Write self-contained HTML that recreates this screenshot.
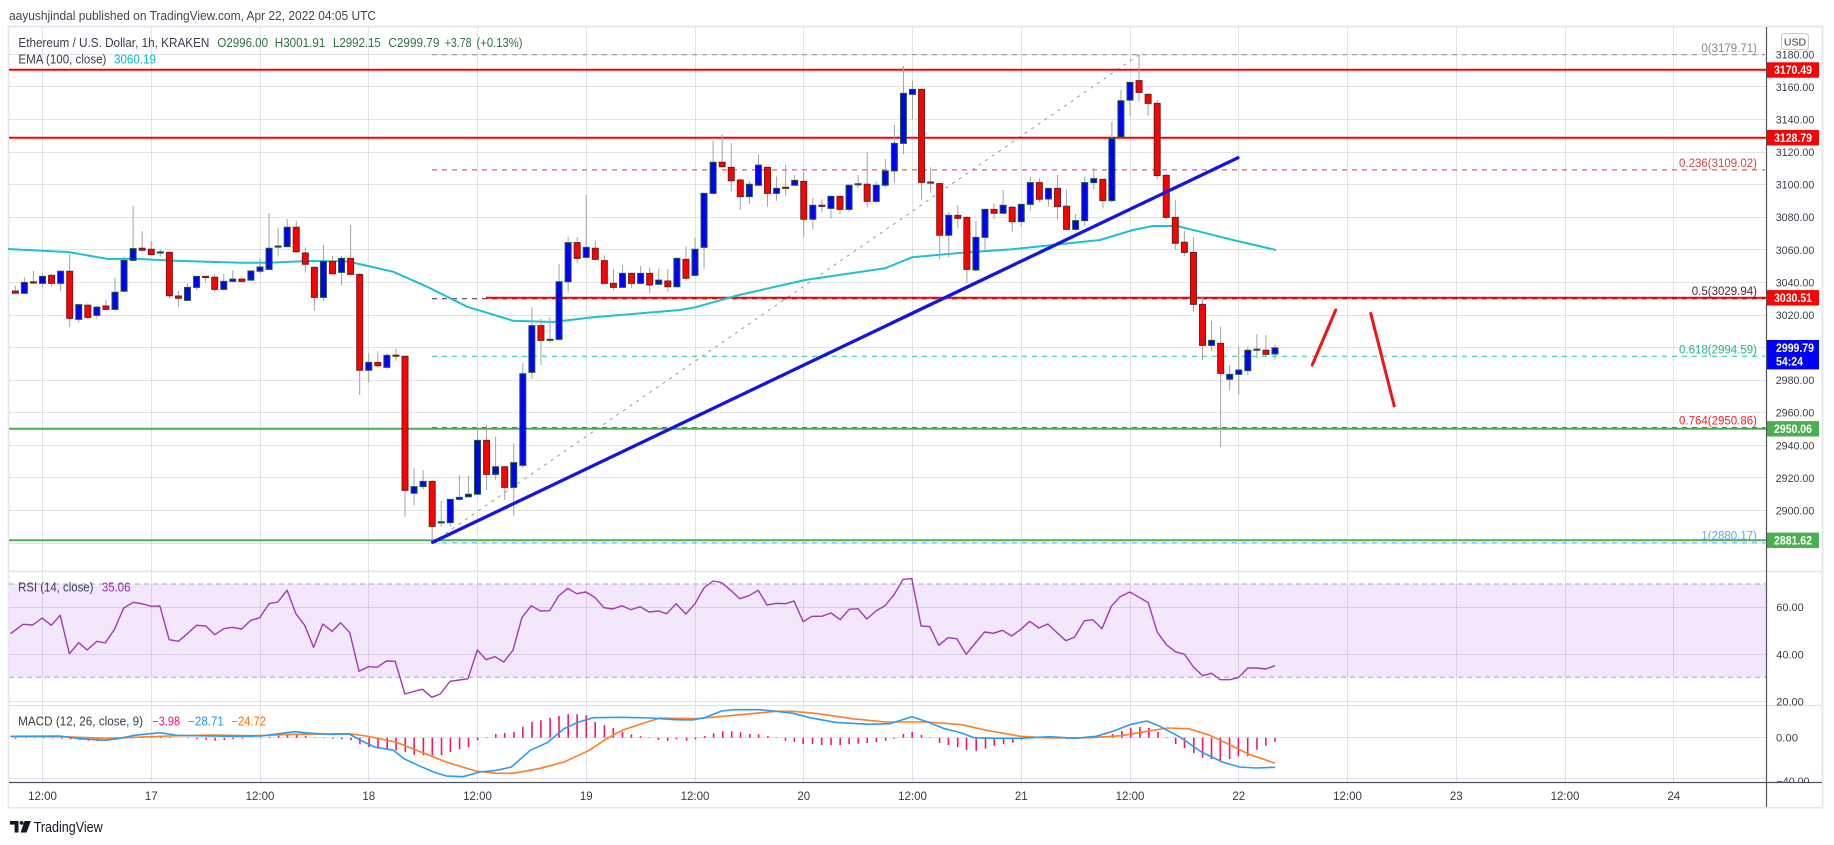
<!DOCTYPE html>
<html><head><meta charset="utf-8"><style>
html,body{margin:0;padding:0;background:#fff;width:1834px;height:845px;overflow:hidden}
svg{display:block}
text{font-family:"Liberation Sans",sans-serif}
</style></head><body>
<svg width="1834" height="845" viewBox="0 0 1834 845" xmlns="http://www.w3.org/2000/svg">
<rect width="1834" height="845" fill="#fff"/>
<text x="9" y="20" font-size="13" fill="#434651" textLength="367" lengthAdjust="spacingAndGlyphs">aayushjindal published on TradingView.com, Apr 22, 2022 04:05 UTC</text>
<rect x="8.5" y="26.5" width="1814" height="781" fill="#fff" stroke="#e6e8ef" stroke-width="2"/>

<!-- RSI band -->
<rect x="9" y="584" width="1757" height="93.3" fill="#f3e7fc"/>

<!-- vertical grid -->
<g stroke="rgba(60,60,90,0.14)" stroke-width="1">
<path d="M42.5 27V782M151.5 27V782M260.5 27V782M368.5 27V782M477.5 27V782M586.5 27V782M695.5 27V782M803.5 27V782M912.5 27V782M1021.5 27V782M1130.5 27V782M1238.5 27V782M1347.5 27V782M1456.5 27V782M1565.5 27V782M1673.5 27V782"/>
<path d="M9 54.5H1766M9 86.5H1766M9 119.5H1766M9 152.5H1766M9 184.5H1766M9 217.5H1766M9 249.5H1766M9 282.5H1766M9 315.5H1766M9 347.5H1766M9 380.5H1766M9 412.5H1766M9 445.5H1766M9 477.5H1766M9 510.5H1766M9 543.5H1766"/>
<path d="M9 607.5H1766M9 654.5H1766M9 701.5H1766M9 737.5H1766M9 778.5H1766"/>
</g>
<!-- pane separators -->
<path d="M9 571.5H1822M9 705.5H1822" stroke="#dfe1e8" stroke-width="1.2"/>
<!-- RSI band dashed edges -->
<path d="M9 584H1766M9 677.3H1766" stroke="#aaa3b9" stroke-width="1" stroke-dasharray="5 4"/>

<!-- fib lines -->
<g stroke-width="1" stroke-dasharray="5 5" fill="none">
<path d="M432 54.8H1765" stroke="#8a8d96"/>
<path d="M432 169.9H1765" stroke="#e0393e"/>
<path d="M432 298.7H1765" stroke="#3a2434"/>
<path d="M432 356.3H1765" stroke="#22c49a"/>
<path d="M432 427.5H1765" stroke="#ff2020"/>
<path d="M432 542.7H1765" stroke="#64b5f6"/>
</g>
<path d="M432.2 542.7L1139 54.8" stroke="#9598a1" stroke-width="1" stroke-dasharray="3 5"/>

<!-- horizontal S/R lines -->
<g stroke-width="2">
<path d="M9 69.8H1766M9 137.7H1766" stroke="#ff0000"/>
<path d="M486 297.8H1766" stroke="#ff0000"/>
<path d="M9 428.8H1766M9 540.3H1766" stroke="#4caf50"/>
</g>

<!-- EMA -->
<polyline fill="none" stroke="#1ec0d8" stroke-width="2" stroke-linejoin="round" points="8,249 51,251.3 68,252 108,259 135,258.7 175,260.7 241,262.7 268,262.7 308,261 348,261.5 393,271.7 427,286.7 467,306.7 513,320.7 553,322 593,317.3 680,310 695,307.3 739,295 805,280 885,268.3 912,257.3 962,252.7 1012,249.3 1100,240 1133,230 1153,226 1177,226 1200,231.7 1233,240 1276,250"/>

<!-- candles -->
<g transform="translate(42.5 347.5) scale(9.0625 -1.6289)">
<path vector-effect="non-scaling-stroke" stroke="#a3a3a3" stroke-width="1" fill="none" d="M-3 38V33M-2 43.1V32.5M-1 47V39M0 45.5V36.9M1 45V37M2 47.5V34.9M3 57.4V12.4M4 27V15.3M5 27.1V17.5M6 25.5V17.7M7 29.2V22.6M8 42.7V22.8M9 55.8V34M10 86.9V53M11 71.5V58.8M12 65.4V56.5M13 60.2V55.8M14 59V30.2M15 34.7V25.1M16 39.4V28.5M17 44V35.3M18 44V40M19 44.5V33.9M20 45.1V35M21 47.6V40M22 43V39.5M23 47.5V41M24 54.9V45.1M25 82.6V47.5M26 73.6V55.8M27 78.9V61.5M28 77.7V58M29 61.5V45.9M30 50V22.6M31 62.9V28.8M32 56.2V45M33 56.2V38M34 75.2V44.5M35 45.5V-29.2M36 -3.2V-21.6M37 -2.4V-12M38 -3.6V-13M39 -0.7V-8.1M40 -5V-103.9M41 -74.2V-97.1M42 -75.2V-87M43 -81.5V-119.8M44 -94.2V-110M45 -93.2V-110M46 -78.3V-94M47 -78.9V-92M48 -50.7V-90.5M49 -47.4V-87.5M50 -54.7V-81.3M51 -72.5V-93.6M52 -58.8V-103.2M53 -9.7V-74M54 24.7V-19.3M55 17.9V-10.7M56 18.5V3M57 51.3V4.5M58 67.8V33.7M59 67.8V51.7M60 93.6V55M61 65.8V53.5M62 56.6V39M63 48V35.3M64 50.6V36.5M65 46V36.5M66 50V39M67 49.2V33.2M68 48.6V38.5M69 48.2V34.3M70 55.5V37M71 61.9V41M72 67.4V44M73 95V48.4M74 127V94M75 131.1V110.5M76 125.5V95.7M77 103.5V84.4M78 102.4V88.1M79 118.8V99M80 111V86.5M81 104.9V90.1M82 112V93.2M83 105.9V99M84 107.7V67.6M85 91.8V72.5M86 91V83M87 93.5V79.3M88 93.6V81.7M89 100V83.2M90 105.9V98M91 119.8V86M92 101.8V89M93 115.7V98.3M94 136.6V101.2M95 172.8V118.8M96 163.6V140.1M97 159V90.8M98 110.6V95.1M99 101V54.1M100 83.2V55.1M101 87.5V73.2M102 80.5V39.4M103 77.9V47M104 85V59.9M105 88.5V78.7M106 96.7V82M107 87V71.1M108 88.5V74.2M109 104.9V84M110 103.9V89M111 98V86.5M112 105.9V78.3M113 96.7V72M114 82V72M115 104.9V74.8M116 110V97.1M117 103.5V85.4M118 138.6V89M119 158.1V129M120 163V142.1M121 179.6V150.9M122 156V142.3M123 152V103.2M124 106.5V79M125 90.5V59.9M126 71.7V56.2M127 67.6V22M128 31.2V-7.7M129 16.5V-2M130 12.8V-61.3M131 -10.7V-26.5M132 0.5V-29.2M133 0.5V-16.9M134 8.3V-6.7M135 7.7V-5M136 1.91V-7.85"/>
<path vector-effect="non-scaling-stroke" fill="#0000ff" stroke="#1e5a32" stroke-width="1" d="M-2.33 33.3h.66v6.7h-.66zM-.33 39.4h.66v4.3h-.66zM1.67 39.4h.66v7.4h-.66zM3.67 17.3h.66v9h-.66zM5.67 19.7h.66v5.1h-.66zM7.67 23.4h.66v10.5h-.66zM8.67 34.5h.66v19h-.66zM9.67 53.5h.66v7.2h-.66zM12.67 58h.66v.7h-.66zM15.67 28.9h.66v8h-.66zM16.67 36.9h.66v6.8h-.66zM19.67 35.7h.66v4.9h-.66zM20.67 40.6h.66v1.4h-.66zM22.67 41.4h.66v5.6h-.66zM23.67 46.8h.66v2.6h-.66zM24.67 48h.66v12.9h-.66zM25.67 61.6h.66v.7h-.66zM26.67 61.9h.66v11.9h-.66zM30.67 30.8h.66v22.1h-.66zM32.67 46.1h.66v8.6h-.66zM35.67 -14h.66v4.9h-.66zM37.67 -12.2h.66v7.4h-.66zM40.67 -89.5h.66v4.1h-.66zM41.67 -85.4h.66v3.2h-.66zM43.67 -107.7h.66v.7h-.66zM44.67 -107.5h.66v14.3h-.66zM45.67 -93.2h.66v1.2h-.66zM46.67 -91.6h.66v1.5h-.66zM47.67 -90.1h.66v33.1h-.66zM49.67 -77.9h.66v4.7h-.66zM51.67 -85.9h.66v15.2h-.66zM52.67 -72.4h.66v56.3h-.66zM53.67 -15.3h.66v28.7h-.66zM55.67 4.4h.66v.7h-.66zM56.67 5h.66v35.4h-.66zM57.67 40.4h.66v24h-.66zM59.67 55.3h.66v6.2h-.66zM63.67 36.9h.66v8.6h-.66zM65.67 39.4h.66v6.1h-.66zM67.67 38.8h.66v2.6h-.66zM69.67 37.3h.66v17.4h-.66zM71.67 44.3h.66v16h-.66zM72.67 61.5h.66v33.1h-.66zM73.67 94.6h.66v19.1h-.66zM77.67 92.6h.66v7.6h-.66zM78.67 99.6h.66v12.4h-.66zM80.67 94.6h.66v3.1h-.66zM82.67 99.6h.66v3h-.66zM84.67 78.7h.66v8.6h-.66zM86.67 85.4h.66v7.4h-.66zM88.67 84.8h.66v14.8h-.66zM89.67 99.8h.66v.7h-.66zM91.67 89.7h.66v9.9h-.66zM92.67 99.6h.66v8.8h-.66zM93.67 108.4h.66v16.9h-.66zM94.67 125.3h.66v30.7h-.66zM95.67 155.4h.66v3.1h-.66zM99.67 68.9h.66v12.2h-.66zM102.67 47.6h.66v20h-.66zM103.67 67.6h.66v17.2h-.66zM105.67 82.4h.66v4.9h-.66zM107.67 77.3h.66v10.6h-.66zM108.67 87.9h.66v13.3h-.66zM110.67 91.2h.66v6.5h-.66zM113.67 72.5h.66v5.4h-.66zM114.67 77.9h.66v23.3h-.66zM115.67 101.2h.66v2.5h-.66zM117.67 90.2h.66v38.2h-.66zM118.67 129.4h.66v22.1h-.66zM119.67 151.9h.66v10.9h-.66zM128.67 1.3h.66v3.1h-.66zM130.67 -19.5h.66v3h-.66zM131.67 -16.5h.66v2.7h-.66zM132.67 -14.2h.66v12.5h-.66zM133.67 -1.7h.66v.7h-.66zM135.67 -4h.66v3.8h-.66z"/>
<path vector-effect="non-scaling-stroke" fill="#ff0000" stroke="#6d1f1f" stroke-width="1" d="M-3.33 33.3h.66v1.4h-.66zM-1.33 39.6h.66v.7h-.66zM.67 39.4h.66v4.9h-.66zM2.67 17.9h.66v28.9h-.66zM4.67 18.5h.66v7.4h-.66zM6.67 23.4h.66v2.1h-.66zM10.67 59.7h.66v1.2h-.66zM11.67 57h.66v3.3h-.66zM13.67 31.8h.66v26.6h-.66zM14.67 30.2h.66v1.4h-.66zM17.67 43h.66v.7h-.66zM18.67 35.7h.66v7.4h-.66zM21.67 40.6h.66v1.4h-.66zM27.67 58.8h.66v15h-.66zM28.67 51.1h.66v6.9h-.66zM29.67 30.8h.66v18.4h-.66zM31.67 45.3h.66v7.6h-.66zM33.67 44.9h.66v9.8h-.66zM34.67 -14h.66v58.9h-.66zM36.67 -11.2h.66v2.1h-.66zM38.67 -5.4h.66v.7h-.66zM39.67 -87.7h.66v82.3h-.66zM42.67 -109.8h.66v27.6h-.66zM48.67 -77.9h.66v20.9h-.66zM50.67 -85.9h.66v12.7h-.66zM54.67 4.4h.66v9h-.66zM58.67 54.7h.66v9.7h-.66zM60.67 54.1h.66v6.8h-.66zM61.67 39.4h.66v13.9h-.66zM62.67 36.9h.66v2.5h-.66zM64.67 39.4h.66v6.1h-.66zM66.67 38.4h.66v7.1h-.66zM68.67 37.3h.66v3.5h-.66zM70.67 42.5h.66v11.6h-.66zM74.67 111h.66v2.7h-.66zM75.67 102.4h.66v8.2h-.66zM76.67 92.6h.66v10.2h-.66zM79.67 94.6h.66v16h-.66zM81.67 97.7h.66v.7h-.66zM83.67 78.7h.66v23.3h-.66zM85.67 86.6h.66v.7h-.66zM87.67 84.8h.66v8h-.66zM90.67 89.7h.66v10.5h-.66zM96.67 101.4h.66v57.1h-.66zM97.67 100.9h.66v.7h-.66zM98.67 68.9h.66v31.7h-.66zM100.67 79.3h.66v1.8h-.66zM101.67 48h.66v31.9h-.66zM104.67 82.4h.66v2.4h-.66zM106.67 77.3h.66v8.8h-.66zM109.67 91h.66v10.2h-.66zM111.67 86.5h.66v11.2h-.66zM112.67 72.5h.66v14.2h-.66zM116.67 90.2h.66v13h-.66zM120.67 156.6h.66v7.2h-.66zM121.67 149.9h.66v5.5h-.66zM122.67 105.5h.66v44.4h-.66zM123.67 79.9h.66v25.8h-.66zM124.67 64h.66v15.9h-.66zM125.67 58.4h.66v6.2h-.66zM126.67 26.5h.66v31.9h-.66zM127.67 1.3h.66v25.2h-.66zM129.67 -15.9h.66v18.4h-.66zM134.67 -4.2h.66v2.5h-.66z"/>
</g>

<!-- blue trendline -->
<path d="M432.7 542.3L1238 157.7" stroke="#1414e6" stroke-width="3.3" stroke-linecap="round"/>
<!-- red arrows -->
<path d="M1312.3 364.9L1335.7 310M1370.8 313.5L1394.2 405.9" stroke="#f01414" stroke-width="3" stroke-linecap="round"/>

<!-- fib labels -->
<g font-size="11.5" text-anchor="end">
<text x="1757" y="51.8" fill="#858892">0(3179.71)</text>
<text x="1757" y="166.9" fill="#d84343">0.236(3109.02)</text>
<text x="1757" y="295.2" fill="#4a2640">0.5(3029.94)</text>
<text x="1757" y="353.3" fill="#26b38c">0.618(2994.59)</text>
<text x="1757" y="424.5" fill="#ff2020">0.764(2950.86)</text>
<text x="1757" y="539.7" fill="#5aa9e6">1(2880.17)</text>
</g>

<!-- legends -->
<g font-size="12.5">
<text x="18.4" y="47" fill="#3a3e4a" textLength="191" lengthAdjust="spacingAndGlyphs">Ethereum / U.S. Dollar, 1h, KRAKEN</text>
<g fill="#2f6f45">
<text x="217.4" y="47" textLength="50.6" lengthAdjust="spacingAndGlyphs">O2996.00</text>
<text x="274.8" y="47" textLength="50.5" lengthAdjust="spacingAndGlyphs">H3001.91</text>
<text x="333" y="47" textLength="47.8" lengthAdjust="spacingAndGlyphs">L2992.15</text>
<text x="388.4" y="47" textLength="51" lengthAdjust="spacingAndGlyphs">C2999.79</text>
<text x="444.7" y="47" textLength="26.8" lengthAdjust="spacingAndGlyphs">+3.78</text>
<text x="476.5" y="47" textLength="46" lengthAdjust="spacingAndGlyphs">(+0.13%)</text>
</g>
<text x="18.4" y="63.5" fill="#3a3e4a" textLength="88" lengthAdjust="spacingAndGlyphs">EMA (100, close)</text>
<text x="114" y="63.5" fill="#00bcd4" textLength="42" lengthAdjust="spacingAndGlyphs">3060.19</text>
<text x="18.1" y="591.5" fill="#3a3e4a" textLength="75.3" lengthAdjust="spacingAndGlyphs">RSI (14, close)</text>
<text x="101.9" y="591.5" fill="#9c27b0" textLength="28.6" lengthAdjust="spacingAndGlyphs">35.06</text>
<text x="18.1" y="725.5" fill="#3a3e4a" textLength="125" lengthAdjust="spacingAndGlyphs">MACD (12, 26, close, 9)</text>
<text x="152.4" y="725.5" fill="#f7136f" textLength="27.7" lengthAdjust="spacingAndGlyphs">−3.98</text>
<text x="188.1" y="725.5" fill="#2196f3" textLength="35.8" lengthAdjust="spacingAndGlyphs">−28.71</text>
<text x="231.5" y="725.5" fill="#ff6d00" textLength="34.5" lengthAdjust="spacingAndGlyphs">−24.72</text>
</g>

<!-- RSI line -->
<polyline fill="none" stroke="#a23ab3" stroke-width="1.4" stroke-linejoin="round" points="10.5,633.7 23.1,624.3 32.8,625 42.1,618 51.3,625.3 60.2,615.3 69.4,653.7 78.7,642.7 87.1,650 96.8,641.3 105.2,643 114.5,629.3 123.7,608 133.4,602.3 143.1,604 151.5,606.3 159.9,606 169.2,639.7 178.5,641.3 187.3,633.7 196.6,625.3 205.8,626 214.7,634.7 223.9,628.7 232.3,627.3 241.6,629 250.9,620.3 259.7,617.7 269,603.7 277.8,602 287.1,590.3 295.9,613.7 304.7,625.3 313.6,647.3 322.8,624 332.1,631.3 340.5,622.7 349.8,632.7 359,671.3 368.3,666.7 377.1,667.3 386.4,661 395.2,661.3 404.9,694 414.2,691.3 422.6,689.3 431.8,697.3 440.3,694 450,681.3 459.2,680 468,678.7 477.3,650 486.1,659.7 495,656.7 503.8,662 513.1,650 521.9,617.7 531.2,605.7 540.4,611 549.7,610.7 558.5,596 567.8,588.3 576.6,593.7 585.9,592 594.7,597.3 604,607.7 612.8,609 622.1,605.7 630.9,609.7 640.2,606.7 649,612 658.4,611 666.8,613.7 676.1,603.7 685.8,614 695,603.7 703.9,588 713.1,581 721.6,582.7 730.8,590.3 739.7,598.7 748.9,595.7 758.2,590.3 767,605 776.3,603.3 785.5,603.7 794,601 803.2,621.7 812,616.3 821.7,616.3 831,613 840.2,619.7 849.1,609.3 857.9,608.7 866.8,619 876,611 884.9,605.7 894.1,594.7 903,579.3 911.8,578.7 921.1,626 929.9,626.7 938.7,645.3 948,637.7 956.8,638.7 966.1,654.3 975.4,643 984.6,632 993.5,633.3 1002.3,630.3 1011.6,636 1020.4,629.7 1029.7,621.3 1038.9,628 1047.8,624 1056.6,632.3 1065.9,640.7 1074.7,637 1084.4,620.7 1092.8,619.7 1102,628.7 1111.3,606.3 1120.1,596.7 1129.8,592 1139.1,597.3 1148.3,602.7 1157.2,632 1166.4,644.7 1175.3,651.7 1184.5,654.3 1193.4,667 1202.6,675.7 1211.5,673.3 1220.3,679.7 1229.6,679.7 1238.4,677.7 1247.7,668 1256.9,668 1265.8,669 1275,665.7"/>

<!-- MACD histogram -->
<path fill="none" stroke="#f7136f" stroke-width="1.6" d="M15.6 737.7V738.7M26.1 737.7V738.3M34.5 737.7V738.3M43.8 737.7V738.3M52.6 737.7V738.3M61.9 737.7V738.7M70.7 737.7V739.3M80 737.7V740M88.4 737.7V740.7M97.6 737.7V741M106.5 737.7V740.7M115.7 737.7V739.7M124.6 737.7V738.7M133.8 737.7V737.3M142.7 737.7V736.3M151.9 737.7V735.7M160.8 737.7V736.3M170 737.7V737M178.9 737.7V737.9M188.1 737.7V738.3M197 737.7V739M206.2 737.7V739.7M215.1 737.7V740.7M224.3 737.7V740M233.2 737.7V739.3M242.4 737.7V738.7M251.3 737.7V738M260.5 737.7V737.3M269.4 737.7V736.7M278.6 737.7V735.7M287.5 737.7V735M296.7 737.7V734.7M305.6 737.7V736M314.8 737.7V737.3M323.7 737.7V738.2M332.9 737.7V738.7M341.8 737.7V739.3M351 737.7V740.3M359.9 737.7V744.3M369.1 737.7V747M378 737.7V748.7M387.2 737.7V749.3M396.1 737.7V750.3M405.3 737.7V752M414.2 737.7V754.7M423.4 737.7V755.3M432.3 737.7V755.3M441.5 737.7V755.3M450.4 737.7V752M459.6 737.7V749.3M468.5 737.7V747M477.7 737.7V740.3M486.6 737.7V737.3M495.8 737.7V734M504.7 737.7V733M513.9 737.7V732M522.8 737.7V726.7M532 737.7V722M540.9 737.7V720.3M550.1 737.7V717.7M559 737.7V716M568.2 737.7V714.3M577.1 737.7V714.3M586.3 737.7V715.3M595.2 737.7V722M604.4 737.7V725.3M613.3 737.7V728M622.5 737.7V732M631.4 737.7V734.3M640.6 737.7V736.3M649.5 737.7V737.3M658.4 737.7V740M667.7 737.7V740.7M676.5 737.7V739.3M686.6 737.7V740.7M695.5 737.7V739.3M704.7 737.7V736M713.6 737.7V733.3M722.8 737.7V731.3M731.7 737.7V731.3M740.5 737.7V732.3M749.8 737.7V734M758.6 737.7V734.3M767.9 737.7V736M776.3 737.7V737.3M785.5 737.7V740.7M794.4 737.7V741.7M803.2 737.7V744M812.5 737.7V744M821.7 737.7V745M831 737.7V745M840.2 737.7V745M849.1 737.7V744.3M858.3 737.7V743.7M867.2 737.7V743M876.4 737.7V742M885.7 737.7V740.7M894.1 737.7V738.7M903.4 737.7V734M912.2 737.7V732M921.5 737.7V735M930.3 737.7V737.2M939.6 737.7V743M948.4 737.7V745M957.7 737.7V747M966.5 737.7V750M976.2 737.7V750.7M985.5 737.7V748.7M994.3 737.7V745.7M1003.6 737.7V744M1012.8 737.7V742.7M1021.7 737.7V739.7M1030.9 737.7V738.3M1040.2 737.7V738.2M1049 737.7V738.2M1058.3 737.7V738.3M1067.1 737.7V739M1076.4 737.7V739M1085.2 737.7V738.3M1094.5 737.7V737M1103.7 737.7V736.3M1112.6 737.7V734M1121.8 737.7V731M1130.7 737.7V727.7M1139.9 737.7V727M1148.8 737.7V728M1158 737.7V732M1166.9 737.7V737.2M1175.7 737.7V744M1184.5 737.7V748M1193.8 737.7V753M1202.6 737.7V757.7M1211.5 737.7V759M1220.3 737.7V760.3M1229.6 737.7V759M1238.4 737.7V756.3M1247.7 737.7V756.3M1257 737.7V749.7M1265.8 737.7V745.7M1275 737.7V741.8"/>
<polyline fill="none" stroke="#ff7f27" stroke-width="1.6" stroke-linejoin="round" points="10.5,736.3 63.1,736.7 105.2,738.3 126.3,737.7 168.4,736 210.5,735 252.5,735.7 294.6,734.3 349.3,733.7 366.2,736 395.6,742 420.9,752 446.2,762 475.6,771 496.7,773.3 513.5,773.3 538.8,768.7 564,762 589.3,750.3 606,739 622.9,730 644,723 660,718 696.3,718.7 734.2,715.3 776.3,711.3 793.1,711.3 818.4,713.7 852,718.7 885.7,722 927.8,722 961.5,724.7 986.7,730.3 1020.4,736.3 1049.9,738 1092,737.7 1121.4,735.7 1146.7,731.3 1167.7,728 1188.8,728.7 1209.8,735.3 1230.8,745.3 1247.7,753.7 1275,763.3"/>
<polyline fill="none" stroke="#2b9cf2" stroke-width="1.6" stroke-linejoin="round" points="10.5,736.3 58.9,736 80,738.7 105.2,740.3 117.9,738.7 134.7,735.3 159.9,732.7 176.8,735.3 210.5,736 235.7,736.3 261,736 294.6,731.7 311.5,733.3 328.3,734.3 349.3,734 362,741 374.6,747 393.5,750.3 404,758.7 416.7,764.7 433.5,772 446.2,776 463,776.7 479.8,772 496.7,770.3 511.4,767 530.3,750.3 547.2,742.7 564,728.7 578.7,722 593.5,717.7 622.9,717.3 650,718 675.3,719.7 692.1,720 704.7,717.7 721.6,711 734.2,709.7 759.4,709.7 776.3,711.3 793.1,713.3 809.9,717.7 835.2,722.3 868.9,724.3 889.9,723.7 911.8,716.7 927.8,722 944.6,728.7 961.5,733 974.1,737.7 995.1,738.3 1020.4,738.3 1049.9,736.7 1075.1,738.3 1096.2,736.3 1113,731.3 1129.8,724.7 1146.7,721 1159.3,726 1180.3,737.3 1201.4,752 1222.4,762 1239.3,767 1256.1,768 1275,767.3"/>

<!-- price axis labels -->
<g font-size="11" fill="#3a3e4a" text-anchor="middle">
<text x="1795" y="58.3" textLength="38.5" lengthAdjust="spacingAndGlyphs">3180.00</text>
<text x="1795" y="90.9" textLength="38.5" lengthAdjust="spacingAndGlyphs">3160.00</text>
<text x="1795" y="123.5" textLength="38.5" lengthAdjust="spacingAndGlyphs">3140.00</text>
<text x="1795" y="156.1" textLength="38.5" lengthAdjust="spacingAndGlyphs">3120.00</text>
<text x="1795" y="188.7" textLength="38.5" lengthAdjust="spacingAndGlyphs">3100.00</text>
<text x="1795" y="221.2" textLength="38.5" lengthAdjust="spacingAndGlyphs">3080.00</text>
<text x="1795" y="253.8" textLength="38.5" lengthAdjust="spacingAndGlyphs">3060.00</text>
<text x="1795" y="286.4" textLength="38.5" lengthAdjust="spacingAndGlyphs">3040.00</text>
<text x="1795" y="319" textLength="38.5" lengthAdjust="spacingAndGlyphs">3020.00</text>
<text x="1795" y="384.1" textLength="38.5" lengthAdjust="spacingAndGlyphs">2980.00</text>
<text x="1795" y="416.7" textLength="38.5" lengthAdjust="spacingAndGlyphs">2960.00</text>
<text x="1795" y="449.3" textLength="38.5" lengthAdjust="spacingAndGlyphs">2940.00</text>
<text x="1795" y="481.9" textLength="38.5" lengthAdjust="spacingAndGlyphs">2920.00</text>
<text x="1795" y="514.4" textLength="38.5" lengthAdjust="spacingAndGlyphs">2900.00</text>
<text x="1790" y="611" textLength="27.5" lengthAdjust="spacingAndGlyphs">60.00</text>
<text x="1790" y="658.3" textLength="27.5" lengthAdjust="spacingAndGlyphs">40.00</text>
<text x="1790" y="705.7" textLength="27.5" lengthAdjust="spacingAndGlyphs">20.00</text>
<text x="1787" y="741.7" textLength="22" lengthAdjust="spacingAndGlyphs">0.00</text>
<text x="1793" y="785" textLength="33" lengthAdjust="spacingAndGlyphs">−40.00</text>
</g>

<!-- USD button -->
<rect x="1781.5" y="33.5" width="27" height="16" rx="3" fill="#fff" stroke="#c8cad3"/>
<text x="1795" y="45.5" font-size="10.5" fill="#3a3e4a" text-anchor="middle">USD</text>

<!-- colored price tags -->
<g font-size="11.5" font-weight="bold" fill="#fff">
<rect x="1767" y="62.3" width="52" height="15.4" fill="#ff0000"/>
<text x="1793" y="74" text-anchor="middle" fill="#fff" textLength="38" lengthAdjust="spacingAndGlyphs">3170.49</text>
<rect x="1767" y="130" width="52" height="15.4" fill="#ff0000"/>
<text x="1793" y="141.8" text-anchor="middle" fill="#fff" textLength="38" lengthAdjust="spacingAndGlyphs">3128.79</text>
<rect x="1767" y="290.1" width="52" height="15.4" fill="#ff0000"/>
<text x="1793" y="301.9" text-anchor="middle" fill="#fff" textLength="38" lengthAdjust="spacingAndGlyphs">3030.51</text>
<rect x="1767" y="340" width="52" height="29.4" fill="#0000ff"/>
<text x="1776" y="352" fill="#fff" textLength="38" lengthAdjust="spacingAndGlyphs">2999.79</text>
<text x="1776" y="365.5" fill="#fff" textLength="27" lengthAdjust="spacingAndGlyphs">54:24</text>
<rect x="1767" y="421.1" width="52" height="15.4" fill="#4caf50"/>
<text x="1793" y="432.9" text-anchor="middle" fill="#fff" textLength="38" lengthAdjust="spacingAndGlyphs">2950.06</text>
<rect x="1767" y="532.6" width="52" height="15.4" fill="#4caf50"/>
<text x="1793" y="544.4" text-anchor="middle" fill="#fff" textLength="38" lengthAdjust="spacingAndGlyphs">2881.62</text>
</g>

<!-- time axis area -->
<rect x="9" y="782.5" width="1813" height="24.5" fill="#fff"/>
<path d="M9 782.5H1822" stroke="#50535e" stroke-width="1.2"/>
<path d="M1766.5 27V807" stroke="#50535e" stroke-width="1.2"/>
<g font-size="11.5" fill="#363a45" text-anchor="middle">
<text x="42.5" y="800">12:00</text>
<text x="151.25" y="800">17</text>
<text x="260" y="800">12:00</text>
<text x="368.75" y="800">18</text>
<text x="477.5" y="800">12:00</text>
<text x="586.25" y="800">19</text>
<text x="695" y="800">12:00</text>
<text x="803.75" y="800">20</text>
<text x="912.5" y="800">12:00</text>
<text x="1021.25" y="800">21</text>
<text x="1130" y="800">12:00</text>
<text x="1238.75" y="800">22</text>
<text x="1347.5" y="800">12:00</text>
<text x="1456.25" y="800">23</text>
<text x="1565" y="800">12:00</text>
<text x="1673.75" y="800">24</text>
</g>

<!-- logo -->
<g fill="#131722">
<rect x="10" y="821" width="8.5" height="3.6"/>
<rect x="14.6" y="821" width="3.9" height="11.5"/>
<circle cx="21.6" cy="822.9" r="1.9"/>
<polygon points="24.5,821 30.8,821 26.6,832.5 20.6,832.5"/>
</g>
<text x="33.7" y="832" font-size="14.5" fill="#131722" textLength="69" lengthAdjust="spacingAndGlyphs">TradingView</text>
</svg>
</body></html>
